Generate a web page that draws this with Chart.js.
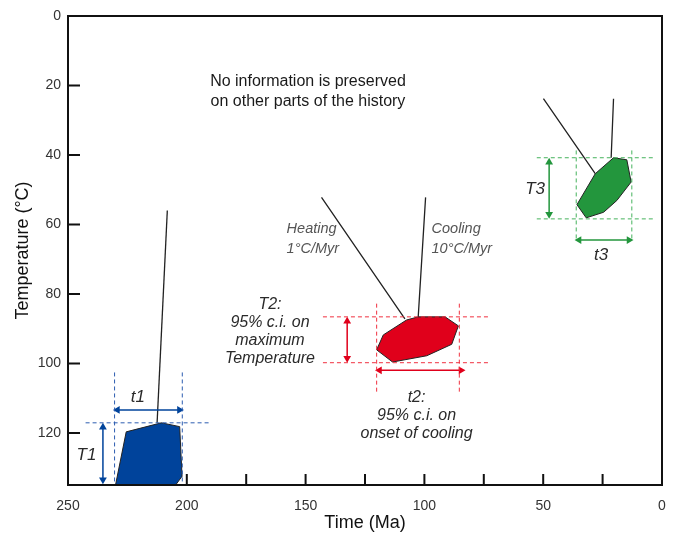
<!DOCTYPE html>
<html>
<head>
<meta charset="utf-8">
<script src="https://cdn.jsdelivr.net/npm/chart.js@4.4.1/dist/chart.umd.min.js"></script>
<style>
  html, body { margin: 0; padding: 0; background: #fff; }
  canvas { display: block; }
</style>
</head>
<body>
<canvas id="chart" width="674" height="535"></canvas>
<script>
// Assi: tempo (Ma) invertito, temperatura (°C) invertita
const xTicks = [250, 225, 200, 175, 150, 125, 100, 75, 50, 25, 0];
const xLabels = [250, 200, 150, 100, 50, 0];
const yTicks = [0, 20, 40, 60, 80, 100, 120];

// Evento 1 (blu) - [tempo, temperatura]
const blueBox = [[230, 135], [225.5, 119.7], [210.7, 117.1], [203, 118.2], [202, 132.5], [204.7, 135]];
const bluePaths = [[[212.5, 117.1], [208.2, 56]]];
const blueGuides = [[[230.4, 102.6], [230.4, 135]], [[201.9, 102.6], [201.9, 135]], [[242.6, 117.1], [190.4, 117.1]]];
const blueArrows = [[[229.2, 113.4], [203.1, 113.4]], [[235.3, 118.4], [235.3, 133.5]]];

// Evento 2 (rosso)
const redBox = [[120.1, 96.1], [117.3, 91.8], [107.5, 87.5], [102.6, 86.6], [91.3, 86.6], [85.7, 89.2], [88.5, 94.5], [99, 97.8], [113.4, 99.6]];
const redPaths = [[[143.3, 52.2], [108.2, 87.2]], [[99.5, 52.2], [102.6, 86.6]]];
const redGuides = [[[142.7, 86.6], [73.2, 86.6]], [[142.7, 99.8], [73.2, 99.8]], [[120.1, 82.8], [120.1, 108.9]], [[85.3, 82.8], [85.3, 108.9]]];
const redArrows = [[[132.5, 87.9], [132.5, 98.5]], [[118.9, 102], [84.6, 102]]];

// Evento 3 (verde)
const greenBox = [[35.8, 54.3], [28.1, 45.4], [20.4, 40.8], [14.8, 41.4], [13, 47.8], [19, 53.1], [24.6, 56.5], [31.9, 58.1]];
const greenPaths = [[[49.9, 23.8], [28.1, 45.4]], [[20.4, 23.8], [21.4, 40.8]]];
const greenGuides = [[[52.7, 40.8], [3.3, 40.8]], [[52.7, 58.4], [3.3, 58.4]], [[36.1, 38.7], [36.1, 64.6]], [[12.7, 38.7], [12.7, 64.6]]];
const greenArrows = [[[47.5, 42.1], [47.5, 57.1]], [[34.9, 64.5], [13.9, 64.5]]];

// Testi
const notes = [
    { text: ['No information is preserved', 'on other parts of the history'], x: 149, y: 19, style: 'plain' },
    { text: ['Heating', '1°C/Myr'], x: 158, y: 61.3, style: 'rate' },
    { text: ['Cooling', '10°C/Myr'], x: 97, y: 61.3, style: 'rate' },
    { text: ['T2:', '95% c.i. on', 'maximum', 'Temperature'], x: 165, y: 83.2, style: 'ci' },
    { text: ['t2:', '95% c.i. on', 'onset of cooling'], x: 103.3, y: 109.9, style: 'ci' },
    { text: ['t1'], x: 220.6, y: 109.7, style: 'tag' },
    { text: ['T1'], x: 242.2, y: 126.4, style: 'tag' },
    { text: ['T3'], x: 53.4, y: 50, style: 'tag' },
    { text: ['t3'], x: 25.6, y: 69, style: 'tag' }
];

const FONT = '"Liberation Sans", Arial, sans-serif';
const noteStyles = {
    plain: { font: '16px ' + FONT, color: '#1a1a1a', gap: 20, align: 'center' },
    rate: { font: 'italic 14.5px ' + FONT, color: '#555', gap: 20, align: 'left' },
    ci: { font: 'italic 16px ' + FONT, color: '#2a2a2a', gap: 18, align: 'center' },
    tag: { font: 'italic 17px ' + FONT, color: '#2a2a2a', gap: 18, align: 'center' }
};

const COLORS = {
    blue: { fill: '#00439b', guide: '#2c5cb0' },
    red: { fill: '#e0001b', guide: '#f0303f' },
    green: { fill: '#23963d', guide: '#45b25c' }
};

const pts = arr => arr.map(([x, y]) => ({ x, y }));
const segs = list => list.flatMap((s, i) => (i ? [{ x: null, y: null }] : []).concat(pts(s)));

function arrowRot(a, b) {
    // triangolo: 0 = su, 90 = destra (asse x invertito)
    if (a[1] === b[1]) return a[0] > b[0] ? [-90, 90] : [90, -90];
    return a[1] < b[1] ? [0, 180] : [180, 0];
}

function groupDatasets(key, box, paths, guides, arrows) {
    const c = COLORS[key];
    const sets = [];
    sets.push({
        data: segs(guides), borderColor: c.guide, borderWidth: 1, borderDash: [4, 3],
        pointRadius: 0, fill: false, spanGaps: false
    });
    arrows.forEach(a => {
        sets.push({
            data: pts(a), borderColor: c.fill, backgroundColor: c.fill, borderWidth: 1.5,
            pointStyle: 'triangle', pointRadius: 4.5, pointRotation: arrowRot(a[0], a[1]),
            pointBorderWidth: 0, fill: false
        });
    });
    sets.push({
        data: pts(box.concat([box[0]])), borderColor: '#222', borderWidth: 1,
        backgroundColor: c.fill, fill: 'shape', pointRadius: 0
    });
    sets.push({
        data: segs(paths), borderColor: '#222', borderWidth: 1.3,
        pointRadius: 0, fill: false, spanGaps: false
    });
    return sets;
}

// Tacche interne (sotto le forme) e cornice (sopra)
const framePlugin = {
    id: 'frame',
    beforeDatasetsDraw(chart) {
        const { ctx, chartArea: a, scales: { x, y } } = chart;
        ctx.save();
        ctx.strokeStyle = '#111';
        ctx.lineWidth = 2;
        ctx.beginPath();
        xTicks.forEach(v => {
            if (v === x.min || v === x.max) return;
            const px = x.getPixelForValue(v);
            ctx.moveTo(px, a.bottom);
            ctx.lineTo(px, a.bottom - 11);
        });
        yTicks.forEach(v => {
            if (v === y.min || v === y.max) return;
            const py = y.getPixelForValue(v);
            ctx.moveTo(a.left, py);
            ctx.lineTo(a.left + 12, py);
        });
        ctx.stroke();
        ctx.restore();
    },
    afterDraw(chart) {
        const { ctx, chartArea: a } = chart;
        ctx.save();
        ctx.strokeStyle = '#111';
        ctx.lineWidth = 2;
        ctx.strokeRect(a.left, a.top, a.right - a.left, a.bottom - a.top);
        ctx.restore();
    }
};

const notesPlugin = {
    id: 'notes',
    afterDatasetsDraw(chart) {
        const { ctx, scales: { x, y } } = chart;
        ctx.save();
        notes.forEach(n => {
            const s = noteStyles[n.style];
            ctx.font = s.font;
            ctx.fillStyle = s.color;
            ctx.textAlign = s.align;
            ctx.textBaseline = 'middle';
            const px = x.getPixelForValue(n.x);
            const py = y.getPixelForValue(n.y);
            n.text.forEach((line, i) => ctx.fillText(line, px, py + i * s.gap));
        });
        ctx.restore();
    }
};

const datasets = [].concat(
    groupDatasets('blue', blueBox, bluePaths, blueGuides, blueArrows),
    groupDatasets('red', redBox, redPaths, redGuides, redArrows),
    groupDatasets('green', greenBox, greenPaths, greenGuides, greenArrows)
);

Chart.defaults.font.family = FONT;

new Chart(document.getElementById('chart').getContext('2d'), {
    type: 'scatter',
    data: { datasets },
    options: {
        responsive: false,
        animation: false,
        showLine: true,
        layout: { padding: { top: 16, right: 12, left: 0, bottom: 0 } },
        plugins: { legend: { display: false }, tooltip: { enabled: false } },
        scales: {
            x: {
                type: 'linear', reverse: true, min: 0, max: 250,
                afterBuildTicks: s => { s.ticks = xTicks.map(v => ({ value: v })); },
                afterFit: s => { s.height = 50; s.paddingLeft = 0; s.paddingRight = 0; },
                grid: { display: false, drawTicks: false },
                border: { display: false },
                ticks: {
                    padding: 13, color: '#333', font: { size: 14 }, maxRotation: 0, autoSkip: false,
                    callback: v => (xLabels.includes(v) ? String(v) : '')
                },
                title: { display: true, text: 'Time (Ma)', color: '#111', font: { size: 18 }, padding: { top: 0, bottom: 1 } }
            },
            y: {
                type: 'linear', reverse: true, min: 0, max: 135,
                afterBuildTicks: s => { s.ticks = yTicks.map(v => ({ value: v })); },
                afterFit: s => { s.width = 68; s.paddingTop = 0; s.paddingBottom = 0; },
                grid: { display: false, drawTicks: false },
                border: { display: false },
                ticks: { padding: 7, color: '#333', font: { size: 14 }, autoSkip: false },
                title: { display: true, text: 'Temperature (°C)', color: '#111', font: { size: 18 }, padding: { top: 12, bottom: 0 } }
            }
        }
    },
    plugins: [framePlugin, notesPlugin]
});
</script>
</body>
</html>
